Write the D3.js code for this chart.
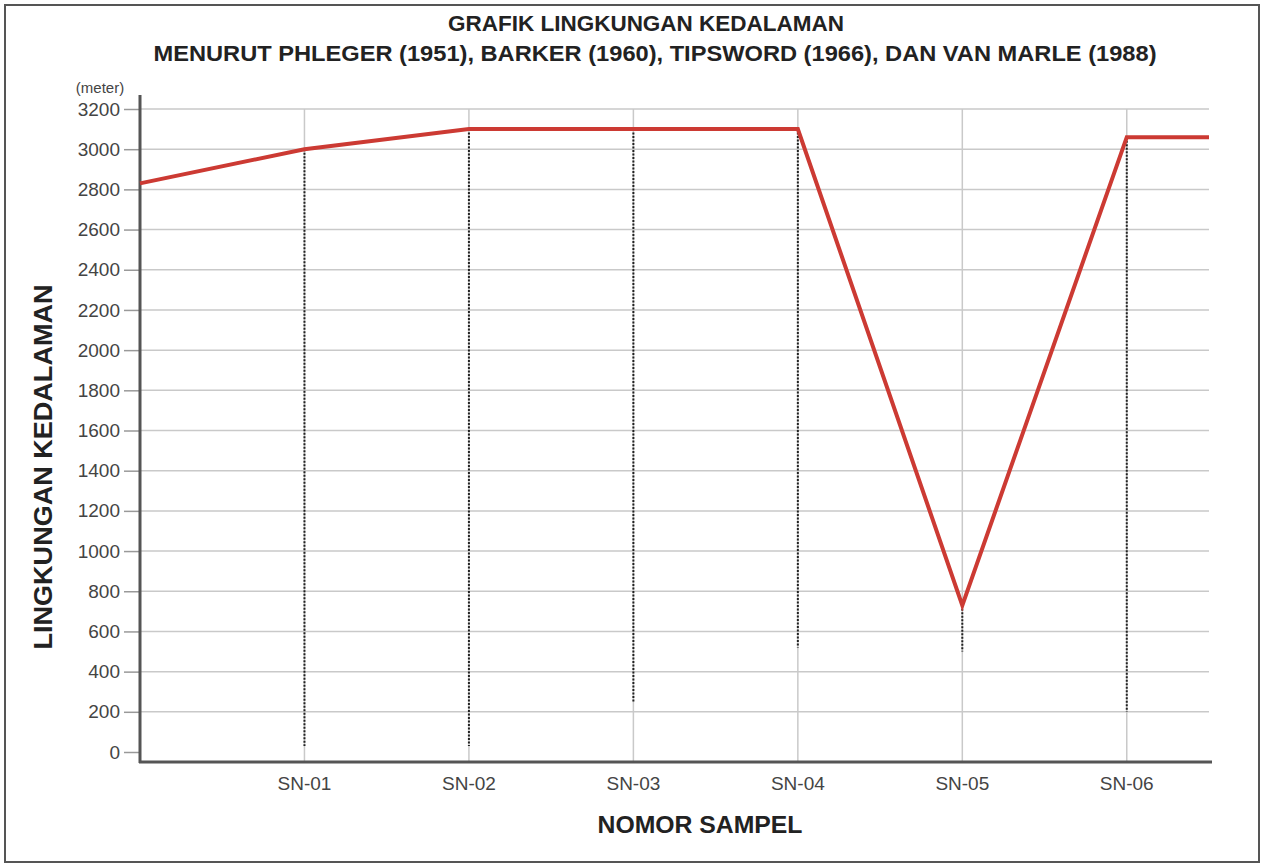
<!DOCTYPE html>
<html>
<head>
<meta charset="utf-8">
<script src="https://cdn.jsdelivr.net/npm/d3@7"></script>
<style>
  body { margin: 0; background: #fff; }
  svg { display: block; font-family: "Liberation Sans", Arial, sans-serif; }
</style>
</head>
<body>
<div id="chart"></div>
<script>
const samples = ["SN-01", "SN-02", "SN-03", "SN-04", "SN-05", "SN-06"];
// upper depth of each sample (meter) - the red line
const depthTop = [3000, 3100, 3100, 3100, 730, 3060];
// lower end of the dotted range under each sample
const depthLow = [30, 30, 250, 520, 500, 200];
// where the red line enters and leaves the plot
const edgeStart = 2830;
const edgeEnd = 3060;
const yTicks = d3.range(0, 3201, 200);

const W = 1263, H = 867;
const x0 = 140, x1 = 1209;
const yBottom = 752, yTop = 109;

const svg = d3.select("#chart").append("svg")
  .attr("width", W)
  .attr("height", H);

svg.append("rect")
  .attr("width", W).attr("height", H)
  .attr("fill", "#fff");

// outer frame
svg.append("rect")
  .attr("x", 5).attr("y", 5)
  .attr("width", W - 9).attr("height", H - 10)
  .attr("fill", "none")
  .attr("stroke", "#555")
  .attr("stroke-width", 2);

// scales: index 0 is the y-axis, samples at 1..6
const xScale = d3.scaleLinear().domain([0, 6.5]).range([x0, x1]);
const yScale = d3.scaleLinear().domain([0, 3200]).range([yBottom, yTop]);

// horizontal grid
svg.append("g")
  .selectAll("line")
  .data(yTicks.filter(d => d > 0))
  .join("line")
  .attr("x1", x0).attr("x2", x1)
  .attr("y1", d => yScale(d)).attr("y2", d => yScale(d))
  .attr("stroke", "#c9c9c9")
  .attr("stroke-width", 1.5);

// vertical grid at samples
svg.append("g")
  .selectAll("line")
  .data(samples)
  .join("line")
  .attr("x1", (d, i) => xScale(i + 1)).attr("x2", (d, i) => xScale(i + 1))
  .attr("y1", yScale(3200)).attr("y2", 762)
  .attr("stroke", "#c9c9c9")
  .attr("stroke-width", 1.5);

// y axis
const yAxis = d3.axisLeft(yScale)
  .tickValues(yTicks)
  .tickFormat(d3.format("d"))
  .tickSize(16)
  .tickPadding(4);

const gy = svg.append("g")
  .attr("transform", `translate(${x0},0)`)
  .call(yAxis)
  .attr("font-size", 19)
  .attr("font-family", "Liberation Sans, Arial, sans-serif");
gy.select(".domain").remove();
gy.selectAll(".tick line").attr("stroke", "#999").attr("stroke-width", 1.5);
gy.selectAll(".tick text").attr("fill", "#444");

// axis lines
svg.append("line")
  .attr("x1", x0).attr("x2", x0)
  .attr("y1", 95).attr("y2", 763)
  .attr("stroke", "#555").attr("stroke-width", 3);
svg.append("line")
  .attr("x1", x0 - 1).attr("x2", 1212)
  .attr("y1", 762).attr("y2", 762)
  .attr("stroke", "#555").attr("stroke-width", 3);

// x labels
svg.append("g")
  .selectAll("text")
  .data(samples)
  .join("text")
  .attr("x", (d, i) => xScale(i + 1))
  .attr("y", 790)
  .attr("text-anchor", "middle")
  .attr("font-size", 19)
  .attr("fill", "#444")
  .text(d => d);

// dotted ranges below each sample
svg.append("g")
  .selectAll("line")
  .data(samples)
  .join("line")
  .attr("x1", (d, i) => xScale(i + 1)).attr("x2", (d, i) => xScale(i + 1))
  .attr("y1", (d, i) => yScale(depthTop[i]))
  .attr("y2", (d, i) => yScale(depthLow[i]))
  .attr("stroke", "#222")
  .attr("stroke-width", 2)
  .attr("stroke-dasharray", "2,1.5");

// red depth line
const pts = [[0, edgeStart]]
  .concat(depthTop.map((v, i) => [i + 1, v]))
  .concat([[6.5, edgeEnd]]);

const line = d3.line()
  .x(d => xScale(d[0]))
  .y(d => yScale(d[1]));

svg.append("path")
  .datum(pts)
  .attr("d", line)
  .attr("fill", "none")
  .attr("stroke", "#cc3a33")
  .attr("stroke-width", 4)
  .attr("stroke-linejoin", "miter");

// titles
svg.append("text")
  .attr("x", 646).attr("y", 31)
  .attr("text-anchor", "middle")
  .attr("font-size", 22).attr("font-weight", "bold")
  .attr("fill", "#222")
  .attr("textLength", 396)
  .attr("lengthAdjust", "spacingAndGlyphs")
  .text("GRAFIK LINGKUNGAN KEDALAMAN");

svg.append("text")
  .attr("x", 655).attr("y", 61)
  .attr("text-anchor", "middle")
  .attr("font-size", 22).attr("font-weight", "bold")
  .attr("fill", "#222")
  .attr("textLength", 1003)
  .attr("lengthAdjust", "spacingAndGlyphs")
  .text("MENURUT PHLEGER (1951), BARKER (1960), TIPSWORD (1966), DAN VAN MARLE (1988)");

svg.append("text")
  .attr("x", 100).attr("y", 93)
  .attr("text-anchor", "middle")
  .attr("font-size", 15)
  .attr("fill", "#444")
  .text("(meter)");

svg.append("text")
  .attr("transform", "translate(52,467) rotate(-90)")
  .attr("text-anchor", "middle")
  .attr("font-size", 25).attr("font-weight", "bold")
  .attr("fill", "#222")
  .attr("textLength", 365)
  .attr("lengthAdjust", "spacingAndGlyphs")
  .text("LINGKUNGAN KEDALAMAN");

svg.append("text")
  .attr("x", 700).attr("y", 833)
  .attr("text-anchor", "middle")
  .attr("font-size", 23).attr("font-weight", "bold")
  .attr("fill", "#222")
  .attr("textLength", 205)
  .attr("lengthAdjust", "spacingAndGlyphs")
  .text("NOMOR SAMPEL");
</script>
</body>
</html>
